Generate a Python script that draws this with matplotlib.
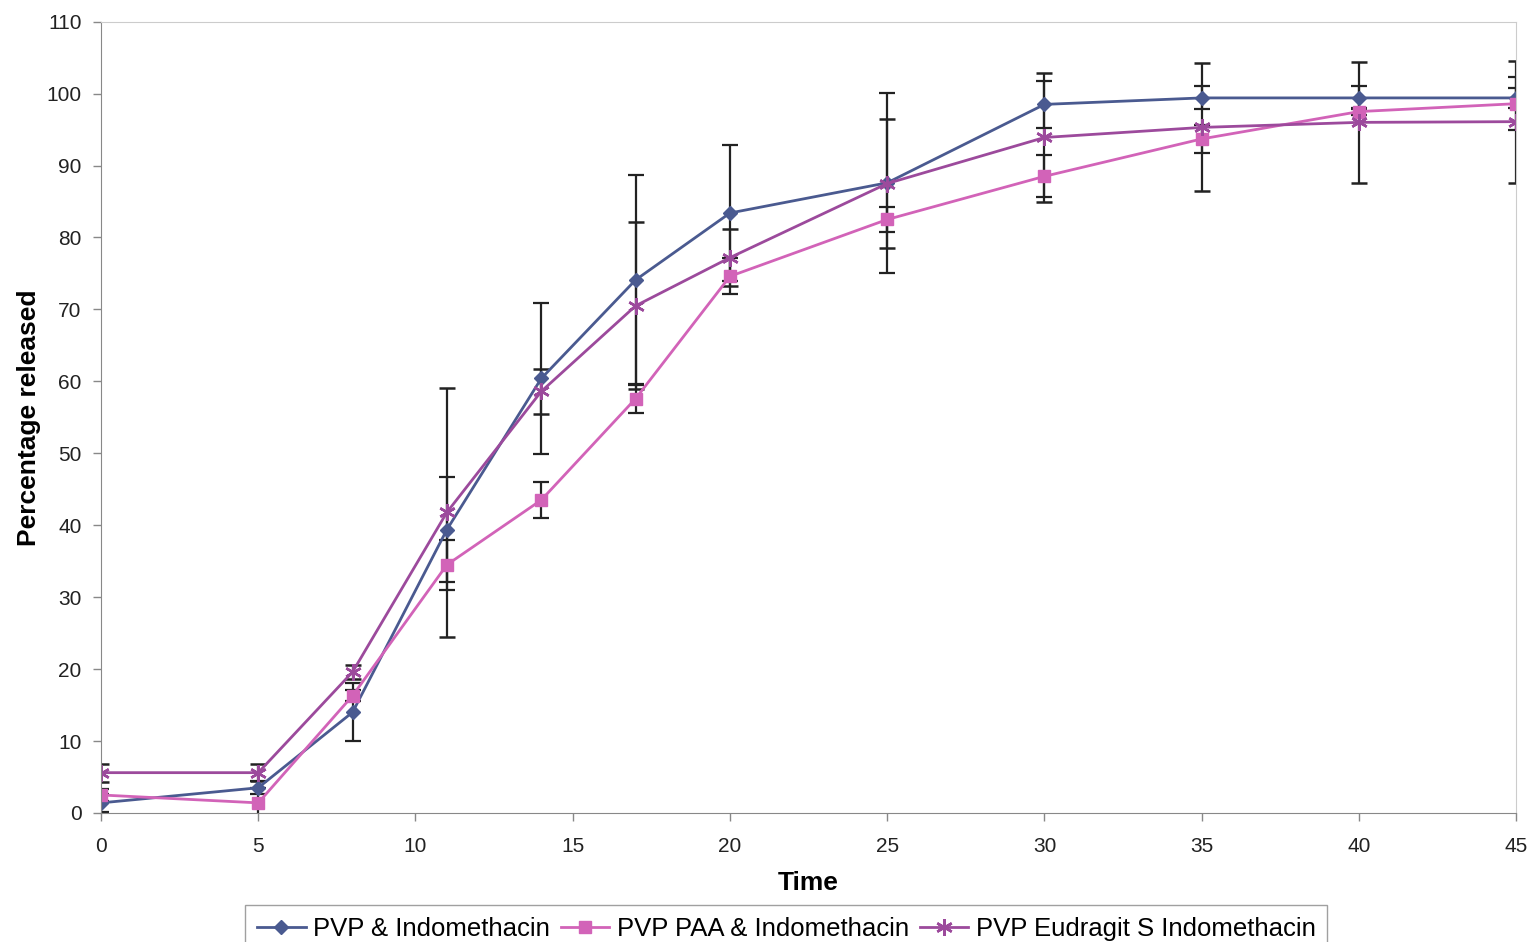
import matplotlib.pyplot as plt

plt.rcParams['font.family'] = ['Liberation Sans', 'DejaVu Sans']

# time points
time = [0, 5, 8, 11, 14, 17, 20, 25, 30, 35, 40, 45]

# PVP & Indomethacin
pvp = [1.4, 3.5, 14.0, 39.4, 60.4, 74.1, 83.4, 87.6, 98.5, 99.4, 99.4, 99.4]
pvp_err = [1.3, 0.9, 4.0, 7.3, 10.5, 14.6, 9.5, 12.5, 3.3, 1.6, 1.6, 1.4]

# PVP PAA & Indomethacin
paa = [2.5, 1.4, 16.3, 34.5, 43.5, 57.6, 74.6, 82.5, 88.5, 93.7, 97.5, 98.6]
paa_err = [0.8, 2.0, 0.8, 3.5, 2.5, 2.0, 2.5, 1.8, 2.9, 2.0, 0.5, 3.7]

# PVP Eudragit S Indomethacin
eud = [5.6, 5.6, 19.6, 41.8, 58.6, 70.5, 77.2, 87.5, 93.9, 95.3, 96.0, 96.1]
eud_err = [1.25, 1.2, 1.0, 17.3, 3.1, 11.6, 4.0, 9.0, 8.9, 8.9, 8.4, 8.5]

fig = plt.figure(figsize=(15.3, 9.42), dpi=100)
ax = fig.add_axes([0.066, 0.137, 0.925, 0.840])

err_kw = dict(ecolor='#222222', elinewidth=1.6, capsize=5.5, capthick=1.6, zorder=2)

e1 = ax.errorbar(time, pvp, yerr=pvp_err, color='#4a5a90', marker='D', markersize=7,
                 linewidth=2, label='PVP & Indomethacin', **err_kw)
e2 = ax.errorbar(time, paa, yerr=paa_err, color='#d263b8', marker='s', markersize=9,
                 linewidth=2, label='PVP PAA & Indomethacin', **err_kw)
e3 = ax.errorbar(time, eud, yerr=eud_err, color='#9c4a9c', marker=(6, 2, 0), markersize=12,
                 markeredgewidth=1.8, linewidth=2, label='PVP Eudragit S Indomethacin', **err_kw)

ax.set_xlim(0, 45)
ax.set_ylim(0, 110)
ax.set_xticks([0, 5, 10, 15, 20, 25, 30, 35, 40, 45])
ax.set_yticks(range(0, 111, 10))
ax.tick_params(labelsize=15, length=6, width=1, color='#888888', labelcolor='#222222')
ax.tick_params(axis='x', pad=11)
ax.tick_params(axis='y', pad=8)
for s in ['left', 'bottom']:
    ax.spines[s].set_color('#888888')
for s in ['top', 'right']:
    ax.spines[s].set_color('#cccccc')

ax.set_xlabel('Time', fontsize=19, fontweight='bold', labelpad=11)
ax.set_ylabel('Percentage released', fontsize=19, fontweight='bold', labelpad=4)

handles = [e1[0], e2[0], e3[0]]
labels = ['PVP & Indomethacin', 'PVP PAA & Indomethacin', 'PVP Eudragit S Indomethacin']
leg = fig.legend(handles, labels, loc='upper center', bbox_to_anchor=(0.514, 0.039), ncol=3,
                 fontsize=18.5, frameon=True, fancybox=False, edgecolor='#888888',
                 handlelength=1.9, handletextpad=0.3, columnspacing=0.4, borderpad=0.45,
                 borderaxespad=0)

fig.savefig('out.png', dpi=100)
